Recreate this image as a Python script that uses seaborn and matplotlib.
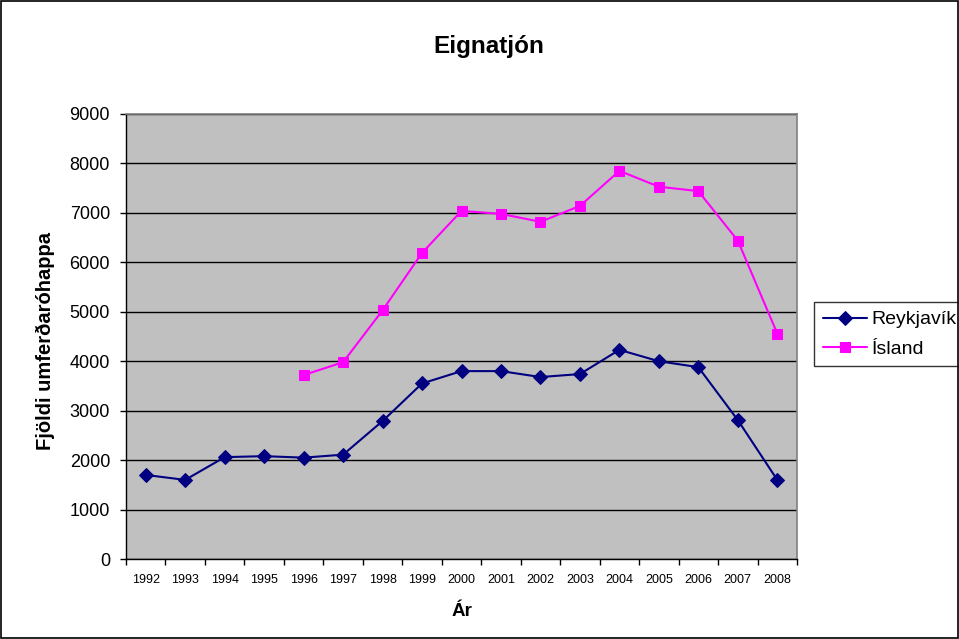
import matplotlib
matplotlib.use("Agg")
import matplotlib.pyplot as plt
from matplotlib.patches import Rectangle
from matplotlib.ticker import FixedLocator, NullFormatter
import seaborn as sns
import pandas as pd

years = ["1992", "1993", "1994", "1995", "1996", "1997", "1998", "1999", "2000",
         "2001", "2002", "2003", "2004", "2005", "2006", "2007", "2008"]
reykjavik = [1700, 1600, 2060, 2080, 2050, 2110, 2790, 3550, 3800,
             3800, 3680, 3740, 4230, 4000, 3880, 2810, 1600]
island_years = ["1996", "1997", "1998", "1999", "2000", "2001", "2002",
                "2003", "2004", "2005", "2006", "2007", "2008"]
island = [3720, 3980, 5030, 6190, 7040, 6980, 6820, 7140, 7850, 7530, 7440, 6440, 4560]
y_ticks = [0, 1000, 2000, 3000, 4000, 5000, 6000, 7000, 8000, 9000]

sns.set_theme(style="white")
plt.rcParams["font.family"] = ["Liberation Sans", "DejaVu Sans"]
plt.rcParams["text.color"] = "black"
plt.rcParams["axes.labelcolor"] = "black"
plt.rcParams["xtick.color"] = "black"
plt.rcParams["ytick.color"] = "black"

pos = {y: i for i, y in enumerate(years)}
df_r = pd.DataFrame({"x": [pos[y] for y in years], "v": reykjavik})
df_i = pd.DataFrame({"x": [pos[y] for y in island_years], "v": island})

fig = plt.figure(figsize=(9.59, 6.39), dpi=100)
ax = fig.add_axes([126 / 959, 80 / 639, 671 / 959, 445 / 639])
ax.set_facecolor("#C0C0C0")

sns.lineplot(data=df_r, x="x", y="v", ax=ax, color="#000080", marker="D",
             markersize=7, markeredgecolor="#000080", linewidth=1.5,
             label="Reykjavík", zorder=4)
sns.lineplot(data=df_i, x="x", y="v", ax=ax, color="#FF00FF", marker="s",
             markersize=7.5, markeredgecolor="#FF00FF", linewidth=1.5,
             label="Ísland", zorder=4)

ax.set_xlim(-0.5, len(years) - 0.5)
ax.set_ylim(0, 9000)
ax.set_yticks(y_ticks)
ax.set_yticklabels([str(t) for t in y_ticks], fontsize=13)
ax.yaxis.grid(True, color="black", linewidth=1)
ax.xaxis.grid(False)
ax.set_axisbelow(True)

ax.set_xticks(range(len(years)))
ax.set_xticklabels(years, fontsize=9)
ax.xaxis.set_minor_locator(FixedLocator([i - 0.5 for i in range(len(years) + 1)]))
ax.xaxis.set_minor_formatter(NullFormatter())
ax.tick_params(axis="x", which="major", length=0, pad=11, colors="black")
ax.tick_params(axis="x", which="minor", length=4, width=1, color="black", direction="out",
               bottom=True)
ax.tick_params(axis="y", which="major", length=4.5, width=1, color="black", direction="out",
               left=True, pad=7, colors="black")

for side in ["top", "right"]:
    ax.spines[side].set_color("#808080")
    ax.spines[side].set_linewidth(1.2)
for side in ["left", "bottom"]:
    ax.spines[side].set_color("black")
    ax.spines[side].set_linewidth(1)

ax.set_xlabel("Ár", fontsize=13.5, fontweight="bold", va="center", color="black")
ax.xaxis.set_label_coords(0.5, (559 - 612) / 445)
ax.set_ylabel("Fjöldi umferðaróhappa", fontsize=14.5, fontweight="bold", va="center",
              color="black")
ax.yaxis.set_label_coords((45 - 126) / 671, 0.49)
fig.text(489 / 959, 1 - 47 / 639, "Eignatjón", ha="center", va="center",
         fontsize=17.5, fontweight="bold", color="black")

leg = ax.legend(loc="upper left", bbox_to_anchor=(814 / 959, 1 - 302 / 639),
                bbox_transform=fig.transFigure, frameon=True, fancybox=False,
                fontsize=14, handlelength=2.3, borderaxespad=0, borderpad=0.45,
                labelspacing=0.6, handletextpad=0.2)
leg.get_frame().set_edgecolor("black")
leg.get_frame().set_linewidth(1)
leg.get_frame().set_facecolor("white")
for t in leg.get_texts():
    t.set_color("black")

fig.patches.append(Rectangle((0.0015, 0.0015), 0.997, 0.997, transform=fig.transFigure,
                             fill=False, edgecolor="black", linewidth=1.2))

fig.savefig("out.png", dpi=100)
